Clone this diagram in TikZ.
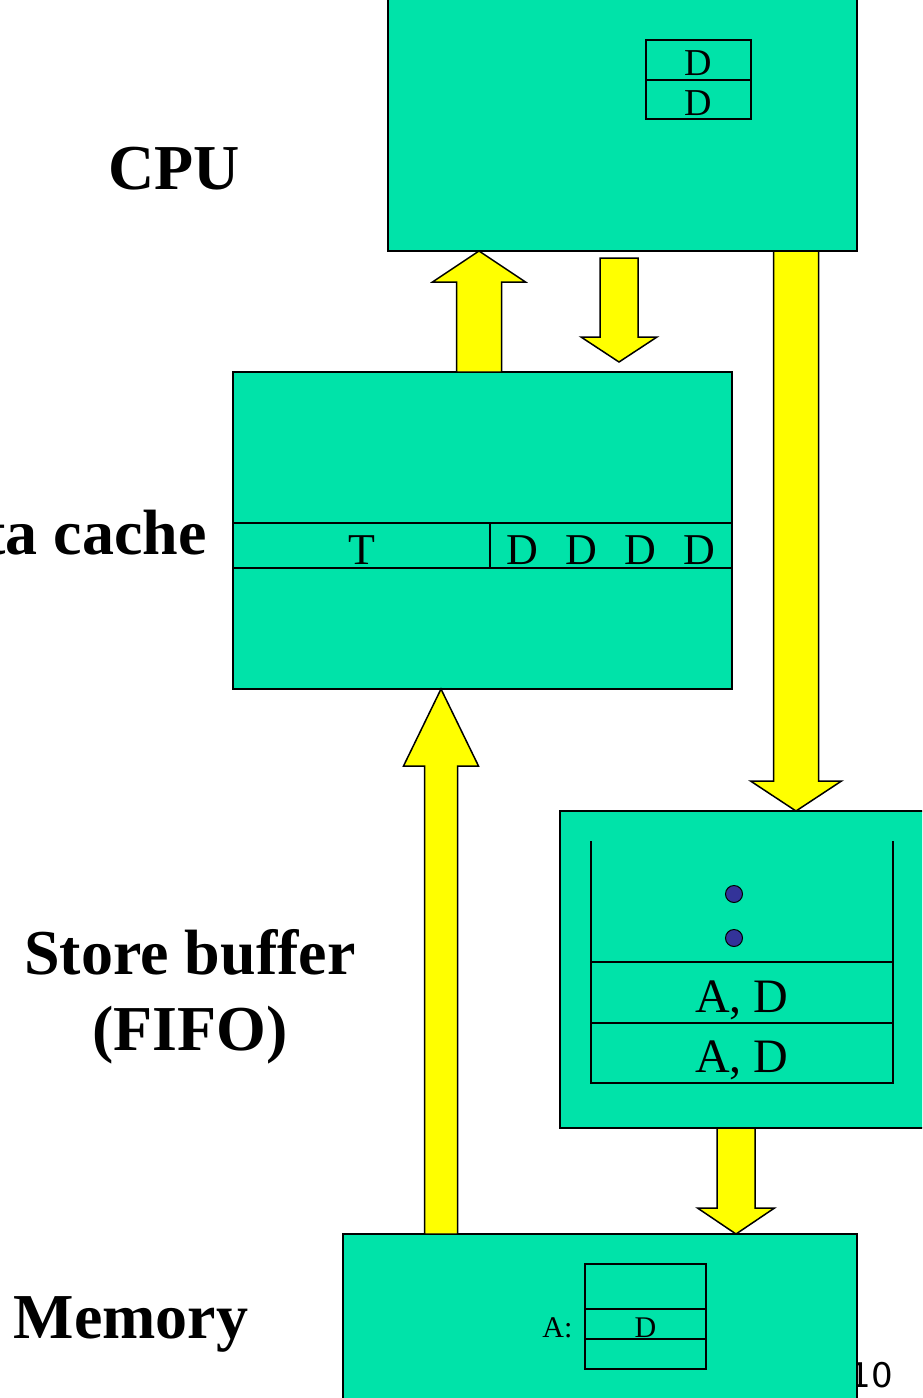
\documentclass[tikz,border=0pt]{standalone}
\usepackage{fontspec}
\setmainfont{Liberation Serif}
\newfontfamily\slidenum{DejaVu Sans}
\usepackage{xcolor}
\definecolor{unitgreen}{HTML}{00E3A9}
\definecolor{busyellow}{HTML}{FFFF00}
\definecolor{entryblue}{HTML}{333399}
\usepackage{tikz}
\usetikzlibrary{calc,positioning}

\tikzset{
  unit/.style={draw,fill=unitgreen,line width=1.5pt,inner sep=0pt,outer sep=0pt,anchor=north west},
  cell/.style={draw,line width=1.5pt,inner sep=0pt,outer sep=0pt,text depth=0pt},
  blockarr/.style={draw,fill=busyellow,line width=1.5pt,line join=miter},
  title/.style={font=\fontsize{64}{76}\selectfont\bfseries},
}

% tail, tip, shaft half width, head half width, head length
\newcommand\blockarrow[5]{%
  \draw[blockarr] let \p1=(#1), \p2=(#2), \n1={sign(\y2-\y1)*#5} in
    ({\x2-#3},\y1) -- ({\x2-#3},{\y2-(\n1)}) -- ({\x2-#4},{\y2-(\n1)}) -- (\x2,\y2)
    -- ({\x2+#4},{\y2-(\n1)}) -- ({\x2+#3},{\y2-(\n1)}) -- ({\x2+#3},\y1) -- cycle;}

\begin{document}
\begin{tikzpicture}[x=1pt,y=-1pt]
  \useasboundingbox (0,0) rectangle (922,1398);
  \clip (0,0) rectangle (922,1398);

  % slide number, partly under the memory box
  \node[font=\slidenum\fontsize{34}{40}\selectfont] (pagenum) at (871,1375) {10};

  % units
  \node[unit,minimum width=469,minimum height=253] (cpu) at (388,-2) {};
  \node[unit,minimum width=499,minimum height=317] (cache) at (233,372) {};
  \node[unit,minimum width=400,minimum height=317] (store) at (560,811) {};
  \node[unit,minimum width=514,minimum height=200] (mem) at (343,1234) {};

  % CPU registers
  \node[cell,anchor=north west,minimum width=105,minimum height=40,text height=31pt,
        font=\fontsize{38}{40}\selectfont] (reg1) at (646,40) {D};
  \node[cell,below=0pt of reg1,minimum width=105,minimum height=39,text height=31pt,
        font=\fontsize{38}{40}\selectfont] (reg2) {D};

  % cache line
  \node[cell,anchor=north west,minimum width=257,minimum height=45,text height=38pt,
        font=\fontsize{44}{46}\selectfont] (tag) at (233,523) {T};
  \node[cell,right=0pt of tag,minimum width=242,minimum height=45] (line) {};
  \foreach \i in {0,...,3}
    \node[font=\fontsize{44}{46}\selectfont] (word\i) at ($(line.west)+(32+59*\i,5)$) {D};

  % store buffer entries
  \node[cell,anchor=north west,minimum width=302,minimum height=61,text height=39pt,
        font=\fontsize{48}{50}\selectfont] (slot1) at (591,962) {A, D};
  \node[cell,below=0pt of slot1,minimum width=302,minimum height=60,text height=39pt,
        font=\fontsize{48}{50}\selectfont] (slot2) {A, D};
  \draw[line width=1.5pt] (slot1.north west) -- ++(0,-121);
  \draw[line width=1.5pt] (slot1.north east) -- ++(0,-121);
  \node[circle,draw,fill=entryblue,line width=1pt,minimum size=17,inner sep=0pt] (dot1) at (734,894) {};
  \node[circle,draw,fill=entryblue,line width=1pt,minimum size=17,inner sep=0pt] (dot2) at (734,938) {};

  % memory cells
  \node[cell,anchor=north west,minimum width=121,minimum height=45] (cellA) at (585,1264) {};
  \node[cell,below=0pt of cellA,minimum width=121,minimum height=30,text height=26pt,
        font=\fontsize{30}{32}\selectfont] (cellB) {D};
  \node[cell,below=0pt of cellB,minimum width=121,minimum height=30] (cellC) {};
  \node[left=9pt of cellB,text height=26pt,text depth=0pt,
        font=\fontsize{30}{32}\selectfont] (addr) {A:};

  % data paths
  \blockarrow{$(cache.north west)+(246,0)$}{$(cpu.south west)+(91,0)$}{22.5}{46.5}{31}
  \blockarrow{$(cpu.south west)+(231,7)$}{$(cache.north west)+(386,-10)$}{19}{38}{25}
  \blockarrow{$(cpu.south west)+(408,0)$}{$(store.north west)+(236,0)$}{22.5}{45.5}{30}
  \blockarrow{$(mem.north west)+(98,0)$}{$(cache.south west)+(208,0)$}{16.5}{37.5}{77}
  \blockarrow{$(store.south west)+(176,0)$}{$(mem.north west)+(393,0)$}{19}{38.5}{26}

  % labels
  \node[title] (cpulabel) at (174,169) {CPU};
  \node[title,anchor=east] (cachelabel) at (210,533) {Data cache};
  \node[title,align=center] (storelabel) at (190,997) {Store buffer\\(FIFO)};
  \node[title] (memlabel) at (131,1324) {Memory};
\end{tikzpicture}
\end{document}
